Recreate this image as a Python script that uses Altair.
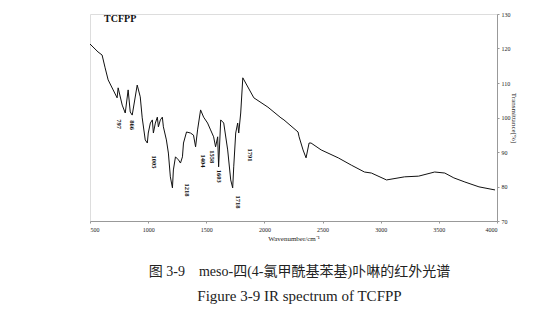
import altair as alt
import pandas as pd

wavenumber = [500, 569, 604, 630, 656, 699, 733, 742, 777, 803, 828, 846, 863, 906, 932, 949, 975, 993,
              1001, 1019, 1036, 1045, 1062, 1079, 1088, 1105, 1122, 1131, 1157, 1174, 1191, 1209, 1217,
              1235, 1261, 1278, 1295, 1304, 1330, 1364, 1390, 1408, 1425, 1451, 1477, 1511, 1537, 1563,
              1580, 1598, 1606, 1624, 1650, 1684, 1710, 1727, 1736, 1753, 1770, 1779, 1796, 1814, 1909,
              2030, 2142, 2168, 2289, 2298, 2332, 2358, 2384, 2401, 2488, 2635, 2747, 2860, 2920, 3050,
              3205, 3326, 3464, 3551, 3629, 3724, 3845, 3983]
transmittance = [121.3, 119.0, 118.1, 114.4, 110.9, 108.0, 105.7, 108.6, 103.6, 101.3, 108.0, 101.6,
                 100.7, 109.4, 106.0, 99.9, 93.5, 92.6, 95.5, 98.4, 99.3, 95.5, 98.4, 100.1, 97.3, 99.3,
                 100.1, 97.3, 93.5, 89.7, 82.8, 79.6, 84.8, 88.6, 87.7, 86.8, 88.6, 92.6, 95.8, 95.5,
                 94.9, 91.5, 96.4, 102.2, 100.1, 98.4, 96.4, 94.4, 91.5, 94.4, 85.7, 99.3, 98.4, 90.6,
                 81.9, 79.6, 85.7, 95.5, 98.4, 95.5, 101.3, 111.5, 105.7, 103.0, 99.9, 99.3, 95.8, 94.4,
                 90.6, 88.3, 92.6, 92.6, 90.6, 88.3, 86.2, 84.2, 83.9, 81.9, 82.8, 83.0, 84.2, 83.9,
                 82.5, 81.3, 79.9, 79.0]

peak_labels = ["797", "866", "1005", "1218", "1404", "1558", "1603", "1718", "1791"]
peak_label_wn = [751, 863, 1053, 1338, 1468, 1546, 1606, 1771, 1874]
peak_label_t = [98.1, 97.8, 87.1, 79.0, 87.4, 88.6, 83.0, 75.5, 89.1]

sample_name = ["TCFPP"]
sample_wn = [760]
sample_t = [128.6]

x_ticks = [500, 1000, 1500, 2000, 2500, 3000, 3500, 4000]
y_ticks = [70, 80, 90, 100, 110, 120, 130]

SERIF = "Liberation Serif, Times New Roman, serif"

spec = pd.DataFrame({"wn": wavenumber, "t": transmittance})
peaks = pd.DataFrame({"wn": peak_label_wn, "t": peak_label_t, "label": peak_labels})
name = pd.DataFrame({"wn": sample_wn, "t": sample_t, "label": sample_name})

xscale = alt.Scale(domain=[500, 4000], nice=False, zero=False)
yscale = alt.Scale(domain=[70, 130], nice=False, zero=False)

line = alt.Chart(spec).mark_line(color="#111111", strokeWidth=1.0).encode(
    x=alt.X("wn:Q", scale=xscale,
            axis=alt.Axis(title="Wavenumber/cm\u207b\u00b9", values=x_ticks, format="d",
                          labelFont=SERIF, labelFontSize=6, labelColor="#222", labelOverlap=False,
                          titleFont=SERIF, titleFontSize=7, titleFontWeight="normal",
                          titleColor="#222", titlePadding=2, tickSize=2, labelPadding=3,
                          domainColor="#999", tickColor="#999", grid=False)),
    y=alt.Y("t:Q", scale=yscale,
            axis=alt.Axis(orient="right", title="Transmittance[%]", values=y_ticks, format="d",
                          tickCount=7, labelFont=SERIF, labelFontSize=6, labelColor="#222",
                          labelOverlap=False, labelBound=False, labelFlush=False,
                          titleFont=SERIF, titleFontSize=7, titleFontWeight="normal",
                          titleColor="#222", titleAngle=90, titlePadding=0, tickSize=2,
                          labelPadding=2, domainColor="#999", tickColor="#999", grid=False)),
)

labels = alt.Chart(peaks).mark_text(angle=90, font=SERIF, fontSize=6.5, fontWeight="bold",
                                    color="#111", align="center", baseline="middle").encode(
    x=alt.X("wn:Q", scale=xscale), y=alt.Y("t:Q", scale=yscale), text="label:N")

title_mark = alt.Chart(name).mark_text(font=SERIF, fontSize=10, fontWeight="bold", color="#111",
                                       align="center", baseline="middle").encode(
    x=alt.X("wn:Q", scale=xscale), y=alt.Y("t:Q", scale=yscale), text="label:N")

chart = alt.layer(line, labels, title_mark).properties(
    width=407, height=207,
    autosize=alt.AutoSizeParams(type="none"),
    padding={"left": 90, "top": 14, "right": 57, "bottom": 94},
    title=alt.TitleParams(
        text="图 3-9\u00a0\u00a0\u00a0\u00a0meso-四(4-氯甲酰基苯基)卟啉的红外光谱",
        subtitle="Figure 3-9 IR spectrum of TCFPP",
        orient="bottom", anchor="middle", offset=24, dx=6,
        font="Liberation Serif, Noto Sans CJK SC, serif", fontSize=14, fontWeight="normal",
        color="#222", subtitleFont=SERIF, subtitleFontSize=15, subtitleColor="#222",
        subtitlePadding=10),
).configure_view(stroke=None).configure_axis(labelOverlap=False).configure(background="white")

chart.save("out.html", embed_options={"renderer": "svg", "actions": False})
